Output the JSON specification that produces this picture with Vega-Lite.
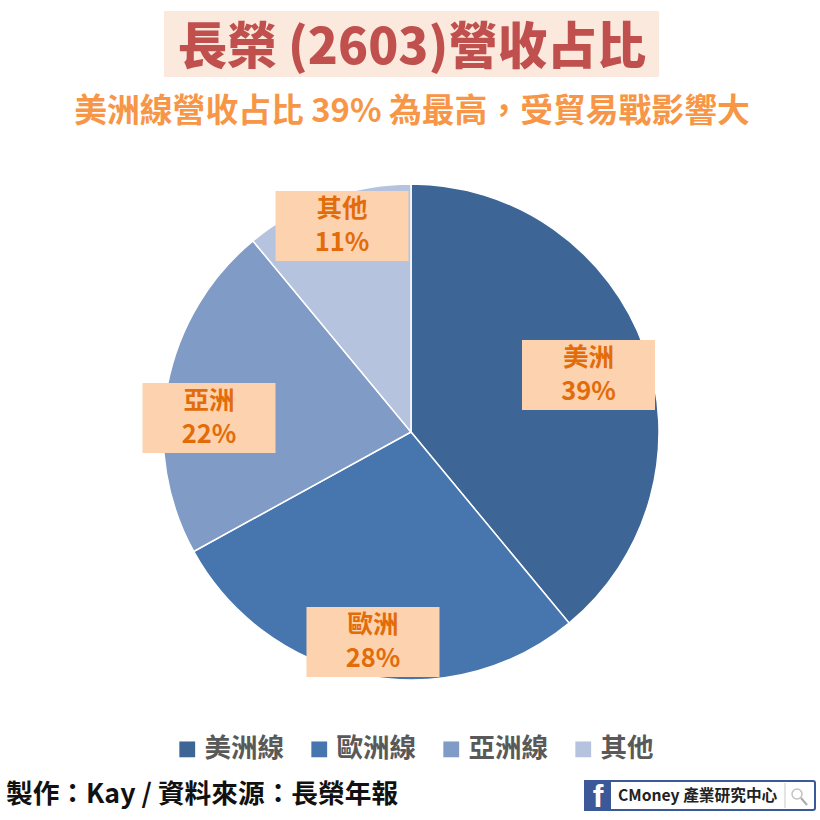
{
  "$schema": "https://vega.github.io/schema/vega-lite/v6.json",
  "width": 820,
  "height": 820,
  "padding": 0,
  "autosize": {"type": "none"},
  "background": "white",
  "title": {
    "text": "長榮 (2603)營收占比",
    "subtitle": "美洲線營收占比 39% 為最高，受貿易戰影響大",
    "anchor": "middle",
    "frame": "group",
    "offset": -130,
    "dx": 2,
    "zindex": 1,
    "font": "Noto Sans CJK TC",
    "fontSize": 49.5,
    "fontWeight": 900,
    "color": "#C0504D",
    "subtitleFont": "Noto Sans CJK TC",
    "subtitleFontSize": 32.8,
    "subtitleFontWeight": "bold",
    "subtitleColor": "#F79646",
    "subtitlePadding": 22
  },
  "datasets": {
    "shares": [
      {"region": "美洲線", "short": "美洲", "share": 0.39},
      {"region": "歐洲線", "short": "歐洲", "share": 0.28},
      {"region": "亞洲線", "short": "亞洲", "share": 0.22},
      {"region": "其他", "short": "其他", "share": 0.11}
    ]
  },
  "resolve": {"scale": {"x": "independent", "y": "independent"}},
  "layer": [
    {
      "layer": [
        {
          "data": {"values": [{"part": "title box"}]},
          "mark": {"type": "rect", "color": "#FCE9DE"},
          "encoding": {
            "x": {"datum": 164, "type": "quantitative", "scale": {"domain": [0, 820], "range": [0, 820], "nice": false, "zero": false}, "axis": null},
            "x2": {"datum": 659},
            "y": {"datum": 11, "type": "quantitative", "scale": {"domain": [0, 820], "range": [0, 820], "nice": false, "zero": false}, "axis": null},
            "y2": {"datum": 77}
          }
        },
        {
          "data": {"name": "shares"},
          "mark": {"type": "arc", "outerRadius": 248, "stroke": "white", "strokeWidth": 1.5},
          "encoding": {
            "x": {"datum": 411, "type": "quantitative"},
            "y": {"datum": 432, "type": "quantitative"},
            "theta": {"field": "share", "type": "quantitative", "stack": true},
            "order": {"field": "share", "type": "quantitative", "sort": "descending"},
            "color": {
              "field": "region",
              "type": "nominal",
              "scale": {
                "domain": ["美洲線", "歐洲線", "亞洲線", "其他"],
                "range": ["#3D6596", "#4776AE", "#7F9BC6", "#B5C3DE"]
              },
              "legend": {
                "title": null,
                "orient": "none",
                "legendX": 174,
                "legendY": 736,
                "direction": "horizontal",
                "columns": 4,
                "columnPadding": 22,
                "symbolType": "square",
                "symbolSize": 250,
                "symbolStrokeWidth": 0,
                "labelFont": "Noto Sans CJK TC",
                "labelFontSize": 26.5,
                "labelFontWeight": "bold",
                "labelColor": "#595959",
                "labelOffset": 4,
                "labelLimit": 200
              }
            }
          }
        },
        {
          "data": {"values": [{"text": "製作：Kay / 資料來源：長榮年報"}]},
          "mark": {"type": "text", "align": "left", "baseline": "middle", "font": "Noto Sans CJK TC", "fontSize": 26.7, "fontWeight": "bold", "color": "#111111"},
          "encoding": {
            "x": {"datum": 6, "type": "quantitative"},
            "y": {"datum": 795, "type": "quantitative"},
            "text": {"field": "text"}
          }
        },
        {
          "data": {"values": [{"part": "logo"}]},
          "mark": {"type": "rect", "color": "white", "stroke": "#3B5998", "strokeWidth": 2, "cornerRadius": 2},
          "encoding": {
            "x": {"datum": 585, "type": "quantitative"},
            "x2": {"datum": 815},
            "y": {"datum": 781, "type": "quantitative"},
            "y2": {"datum": 810}
          }
        },
        {
          "data": {"values": [{"part": "logo f"}]},
          "mark": {"type": "rect", "color": "#3B5998"},
          "encoding": {
            "x": {"datum": 584, "type": "quantitative"},
            "x2": {"datum": 611},
            "y": {"datum": 780, "type": "quantitative"},
            "y2": {"datum": 811}
          }
        },
        {
          "data": {"values": [{"text": "f"}]},
          "mark": {"type": "text", "align": "center", "baseline": "middle", "font": "Liberation Sans", "fontSize": 32, "fontWeight": "bold", "color": "white"},
          "encoding": {
            "x": {"datum": 598, "type": "quantitative"},
            "y": {"datum": 797, "type": "quantitative"},
            "text": {"field": "text"}
          }
        },
        {
          "data": {"values": [{"text": "CMoney 產業研究中心"}]},
          "mark": {"type": "text", "align": "left", "baseline": "middle", "font": "Noto Sans CJK TC", "fontSize": 15.7, "fontWeight": "bold", "color": "#222222"},
          "encoding": {
            "x": {"datum": 618, "type": "quantitative"},
            "y": {"datum": 796, "type": "quantitative"},
            "text": {"field": "text"}
          }
        },
        {
          "data": {"values": [{"part": "separator"}]},
          "mark": {"type": "rule", "color": "#C8C8C8", "strokeWidth": 1},
          "encoding": {
            "x": {"datum": 785, "type": "quantitative"},
            "y": {"datum": 783, "type": "quantitative"},
            "y2": {"datum": 808}
          }
        },
        {
          "data": {"values": [{"part": "search"}]},
          "mark": {"type": "point", "size": 100, "color": "#AAAAAA", "strokeWidth": 1.5, "filled": false},
          "encoding": {
            "x": {"datum": 797, "type": "quantitative"},
            "y": {"datum": 794, "type": "quantitative"}
          }
        },
        {
          "data": {"values": [{"part": "search handle"}]},
          "mark": {"type": "rule", "color": "#AAAAAA", "strokeWidth": 2},
          "encoding": {
            "x": {"datum": 801, "type": "quantitative"},
            "x2": {"datum": 807},
            "y": {"datum": 798, "type": "quantitative"},
            "y2": {"datum": 805}
          }
        }
      ]
    },
    {
      "data": {"name": "shares"},
      "encoding": {
        "x": {
          "field": "share",
          "type": "quantitative",
          "axis": null,
          "scale": {"domain": [0.11, 0.22, 0.28, 0.39], "range": [342, 209, 373, 588.5], "nice": false, "zero": false}
        },
        "y": {
          "field": "share",
          "type": "quantitative",
          "axis": null,
          "scale": {"domain": [0.11, 0.22, 0.28, 0.39], "range": [226, 418, 642, 375], "nice": false, "zero": false}
        }
      },
      "layer": [
        {"mark": {"type": "rect", "width": 133, "height": 70, "color": "#FDD2AE"}},
        {
          "mark": {"type": "text", "dy": -17, "font": "Noto Sans CJK TC", "fontSize": 25.5, "fontWeight": "bold", "color": "#E36C0A"},
          "encoding": {"text": {"field": "short"}}
        },
        {
          "mark": {"type": "text", "dy": 17, "font": "Noto Sans CJK TC", "fontSize": 25.5, "fontWeight": "bold", "color": "#E36C0A"},
          "encoding": {"text": {"field": "share", "format": ".0%"}}
        }
      ]
    }
  ],
  "config": {"view": {"stroke": null}}
}
